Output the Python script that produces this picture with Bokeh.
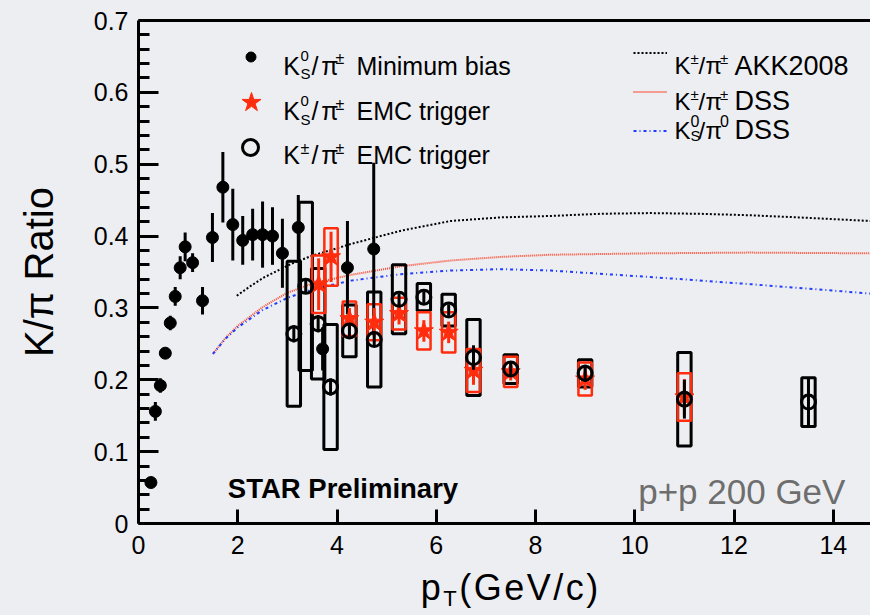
from bokeh.plotting import figure
from bokeh.layouts import column
from bokeh.models import Label, Legend, LegendItem, FixedTicker, LinearAxis, Div
from bokeh.embed import file_html
from bokeh.resources import INLINE

# ---------------- data ----------------
# K0S/pi+- minimum bias (filled circles)
mb_pt = [0.25, 0.34, 0.44, 0.54, 0.64, 0.74, 0.84, 0.94, 1.09, 1.29, 1.49, 1.70, 1.90,
         2.10, 2.30, 2.50, 2.70, 2.90, 3.22, 3.71, 4.21, 4.74]
mb_ratio = [0.057, 0.156, 0.192, 0.237, 0.279, 0.316, 0.356, 0.385, 0.363, 0.310, 0.398,
            0.468, 0.416, 0.394, 0.402, 0.402, 0.400, 0.376, 0.412, 0.243, 0.356, 0.382]
mb_stat = [0.004, 0.013, 0.010, 0.008, 0.010, 0.013, 0.016, 0.020, 0.013, 0.019, 0.034,
           0.049, 0.050, 0.034, 0.036, 0.046, 0.040, 0.048, 0.045, 0.030, 0.065, 0.120]

# K0S/pi+- EMC trigger (red stars)
k0_pt = [3.63, 3.88, 4.25, 4.75, 5.25, 5.75, 6.25, 6.75, 7.5, 9.0, 11.0]
k0_ratio = [0.333, 0.371, 0.285, 0.280, 0.292, 0.268, 0.266, 0.213, 0.211, 0.201, 0.176]
k0_stat = [0.036, 0.035, 0.015, 0.020, 0.015, 0.015, 0.015, 0.020, 0.012, 0.015, 0.025]
k0_sys = [0.040, 0.040, 0.024, 0.025, 0.022, 0.026, 0.028, 0.030, 0.021, 0.023, 0.033]

# K+-/pi+- EMC trigger (open circles)
kc_pt = [3.13, 3.37, 3.62, 3.87, 4.25, 4.75, 5.25, 5.75, 6.25, 6.75, 7.5, 9.0, 11.0, 13.5]
kc_ratio = [0.264, 0.330, 0.278, 0.190, 0.268, 0.256, 0.312, 0.315, 0.297, 0.231, 0.215,
            0.209, 0.173, 0.169]
kc_stat = [0.012, 0.010, 0.012, 0.012, 0.008, 0.010, 0.008, 0.008, 0.008, 0.017, 0.010,
           0.012, 0.027, 0.033]
kc_sys = [0.101, 0.117, 0.077, 0.087, 0.036, 0.066, 0.048, 0.019, 0.022, 0.053, 0.020,
          0.019, 0.065, 0.034]

# theory curves
akk_pt = [1.98, 2.27, 2.53, 3.07, 3.47, 4.28, 5.29, 6.29, 7.3, 8.31, 9.3, 10.3, 11.3, 12.3,
          13.3, 14.75]
akk_ratio = [0.317, 0.331, 0.3425, 0.361, 0.372, 0.389, 0.4075, 0.421, 0.426, 0.428, 0.431,
             0.432, 0.431, 0.429, 0.426, 0.421]
dssc_pt = [1.5, 1.75, 2.0, 2.5, 3.0, 3.5, 4.28, 5.29, 6.29, 7.3, 8.31, 10.32, 12.3, 14.75]
dssc_ratio = [0.236, 0.258, 0.275, 0.301, 0.321, 0.334, 0.346, 0.358, 0.366, 0.371, 0.374,
              0.376, 0.377, 0.376]
dss0_pt = [1.5, 1.75, 2.0, 2.5, 3.0, 3.5, 4.28, 5.29, 6.29, 7.3, 8.31, 10.32, 12.34, 14.75]
dss0_ratio = [0.236, 0.257, 0.273, 0.297, 0.314, 0.326, 0.338, 0.347, 0.352, 0.354, 0.352,
              0.343, 0.333, 0.320]

xticks = [0, 2, 4, 6, 8, 10, 12, 14]
yticks = [0, 0.1, 0.2, 0.3, 0.4, 0.5, 0.6, 0.7]
ytick_labels = ["0", "0.1", "0.2", "0.3", "0.4", "0.5", "0.6", "0.7"]

# ---------------- style ----------------
BG = "#edeef2"
RED = "#ff2d0d"
FONT = "Liberation Sans"
W = 870
ML, MT, FH = 138, 20, 503
MB = 44
H = MT + FH + MB
X_END = 14.75
Y_END = 0.7
FW = W - ML
BOX_W = 0.27


def xd(px):
    return (px - ML) * X_END / FW


def yd(py):
    return (MT + FH - py) * Y_END / FH


p = figure(width=W, height=H, x_range=(0, X_END), y_range=(0, Y_END),
           output_backend="svg", toolbar_location=None,
           min_border_left=ML, min_border_right=0, min_border_top=MT, min_border_bottom=MB,
           background_fill_color=BG, border_fill_color=BG, outline_line_color=None)
p.xgrid.visible = False
p.ygrid.visible = False

ax = p.xaxis[0]
ax.ticker = FixedTicker(ticks=xticks)
ax.major_tick_in = 14
ax.major_tick_out = 0
ax.minor_tick_line_color = None
ax.axis_line_width = 3
ax.major_tick_line_width = 3
ax.major_label_text_font = FONT
ax.major_label_text_font_size = "25px"
ax.major_label_text_color = "black"
ax.major_label_standoff = 12

ay = p.yaxis[0]
ay.ticker = FixedTicker(ticks=yticks,
                        minor_ticks=[t / 100 for t in range(0, 71, 2) if t % 10 != 0])
ay.major_label_overrides = {t: s for t, s in zip(yticks, ytick_labels)}
ay.major_tick_in = 20
ay.major_tick_out = 0
ay.minor_tick_in = 11
ay.minor_tick_out = 0
ay.axis_line_width = 3
ay.major_tick_line_width = 3
ay.minor_tick_line_width = 3
ay.major_label_text_font = FONT
ay.major_label_text_font_size = "25px"
ay.major_label_text_color = "black"
ay.major_label_standoff = 10
ay.axis_label = "K/π Ratio"
ay.axis_label_text_font = FONT
ay.axis_label_text_font_size = "40px"
ay.axis_label_text_font_style = "normal"
ay.axis_label_text_color = "black"
ay.axis_label_standoff = 30

top = LinearAxis(ticker=FixedTicker(ticks=[]), axis_line_width=3,
                 major_tick_line_color=None, minor_tick_line_color=None,
                 major_label_text_font_size="0px")
p.add_layout(top, "above")

# ---------------- curves ----------------
r_akk = p.line(akk_pt, akk_ratio, line_color="black", line_width=2, line_dash="2 2")
r_dssc = p.line(dssc_pt, dssc_ratio, line_color="#fa4a30", line_width=2, line_dash="1 1")
r_dss0 = p.line(dss0_pt, dss0_ratio, line_color="#1f3cff", line_width=2, line_dash="3 3 1 3")

# ---------------- systematic boxes ----------------
p.rect(x=kc_pt, y=kc_ratio, width=BOX_W, height=[2 * s for s in kc_sys],
       fill_color=None, line_color="black", line_width=3)
p.rect(x=k0_pt, y=k0_ratio, width=BOX_W, height=[2 * s for s in k0_sys],
       fill_color=None, line_color=RED, line_width=2.5)

# ---------------- minimum bias ----------------
p.segment(x0=mb_pt, x1=mb_pt, y0=[v - e for v, e in zip(mb_ratio, mb_stat)],
          y1=[v + e for v, e in zip(mb_ratio, mb_stat)], line_color="black", line_width=3)
r_mb = p.scatter(mb_pt, mb_ratio, marker="circle", size=12, fill_color="black",
                 line_color="black")

# ---------------- K0S EMC ----------------
p.segment(x0=k0_pt, x1=k0_pt, y0=[v - e for v, e in zip(k0_ratio, k0_stat)],
          y1=[v + e for v, e in zip(k0_ratio, k0_stat)], line_color=RED, line_width=3)
r_k0 = p.scatter(k0_pt, k0_ratio, marker="star", size=20, fill_color=RED, line_color=RED)

# ---------------- K+- EMC ----------------
p.segment(x0=kc_pt, x1=kc_pt, y0=[v - e for v, e in zip(kc_ratio, kc_stat)],
          y1=[v + e for v, e in zip(kc_ratio, kc_stat)], line_color="black", line_width=3)
r_kc = p.scatter(kc_pt, kc_ratio, marker="circle", size=14, fill_color=None,
                 line_color="black", line_width=3)


# ---------------- legends (keys drawn by Bokeh, texts as labels) ----------------
def key_legend(renderer, glyph, cx, cy):
    leg = Legend(items=[LegendItem(label=" ", renderers=[renderer])],
                 location=(float(cx - ML - glyph / 2), float((MT + FH) - (cy + glyph / 2))),
                 glyph_width=glyph, glyph_height=glyph, padding=0, margin=0, spacing=0,
                 label_height=1, label_width=1, label_standoff=0,
                 label_text_font_size="1px", background_fill_alpha=0,
                 border_line_color=None)
    p.add_layout(leg)


key_legend(r_mb, 25, 250.7, 56)
key_legend(r_k0, 50, 250.7, 101.7)
key_legend(r_kc, 40, 250.0, 146.7)

GH = 39
line_leg = Legend(items=[LegendItem(label=" ", renderers=[r_akk]),
                         LegendItem(label=" ", renderers=[r_dssc]),
                         LegendItem(label=" ", renderers=[r_dss0])],
                  location=(float(633 - ML), float((MT + FH) - (130 + GH / 2))),
                  glyph_width=34, glyph_height=GH, padding=0, margin=0, spacing=0,
                  label_height=1, label_width=1, label_standoff=0,
                  label_text_font_size="1px", background_fill_alpha=0,
                  border_line_color=None)
p.add_layout(line_leg)


def lab(text, px, py, size, color="black", style="normal", align="left"):
    p.add_layout(Label(x=xd(px), y=yd(py), text=text, text_font=FONT,
                       text_font_size=f"{size}px", text_color=color,
                       text_font_style=style, text_align=align,
                       text_baseline="alphabetic"))


# left legend texts
for base, sup, sub, tail in [(65.0, "0", "S", "Minimum bias"),
                             (110.5, "0", "S", "EMC trigger"),
                             (154.5, "±", None, "EMC trigger")]:
    lab("K", 282.7, base, 25)
    if sub:
        lab(sup, 300, base - 10, 15)
        lab(sub, 300, base + 8, 15)
    else:
        lab(sup, 300, base - 7, 16)
    lab("/", 311, base, 25)
    lab("π", 320.7, base, 25)
    lab("±", 335, base - 7, 16)
    lab(tail, 356, base, 25)

# right legend texts
for base, s1, sub, s2, tail in [(65.0, "±", None, "±", "AKK2008"),
                                (100.5, "±", None, "±", "DSS"),
                                (129.5, "0", "S", "0", "DSS")]:
    lab("K", 674, base, 24)
    if sub:
        lab(s1, 690, base - 9, 16)
        lab(sub, 690, base + 5, 15)
        lab(s2, 719.5, base - 9, 16)
    else:
        lab(s1, 690, base - 7, 15)
        lab(s2, 719.5, base - 7, 15)
    lab("/", 698, base, 24)
    lab("π", 705, base, 24)
    lab(tail, 734, base, 27)

lab("STAR Preliminary", 342.5, 488.3, 27.5, style="bold", align="center")
lab("p+p 200 GeV", 741.3, 491, 35, color="#6e6e6e", align="center")

# x axis title (with subscript) as real HTML text below the plot
DIV_H = 615 - H
xlabel = Div(
    text=('<div style="position:relative;width:870px;height:%dpx;overflow:hidden;">'
          '<span style="position:absolute;left:420.7px;top:0px;'
          "font-family:'Liberation Sans';font-size:36px;line-height:normal;"
          'letter-spacing:2.5px;color:black;white-space:nowrap;">p<span style="font-size:22px;'
          'position:relative;top:6px;">T</span>(GeV/c)</span></div>') % DIV_H,
    width=W, height=DIV_H, margin=0)

layout = column(p, xlabel, spacing=0)

html = file_html(layout, INLINE)
html = html.replace("<html", '<html style="background-color:#edeef2;"', 1)
html = html.replace("<body>", '<body style="background-color:#edeef2;">', 1)
open("out.html", "w").write(html)
